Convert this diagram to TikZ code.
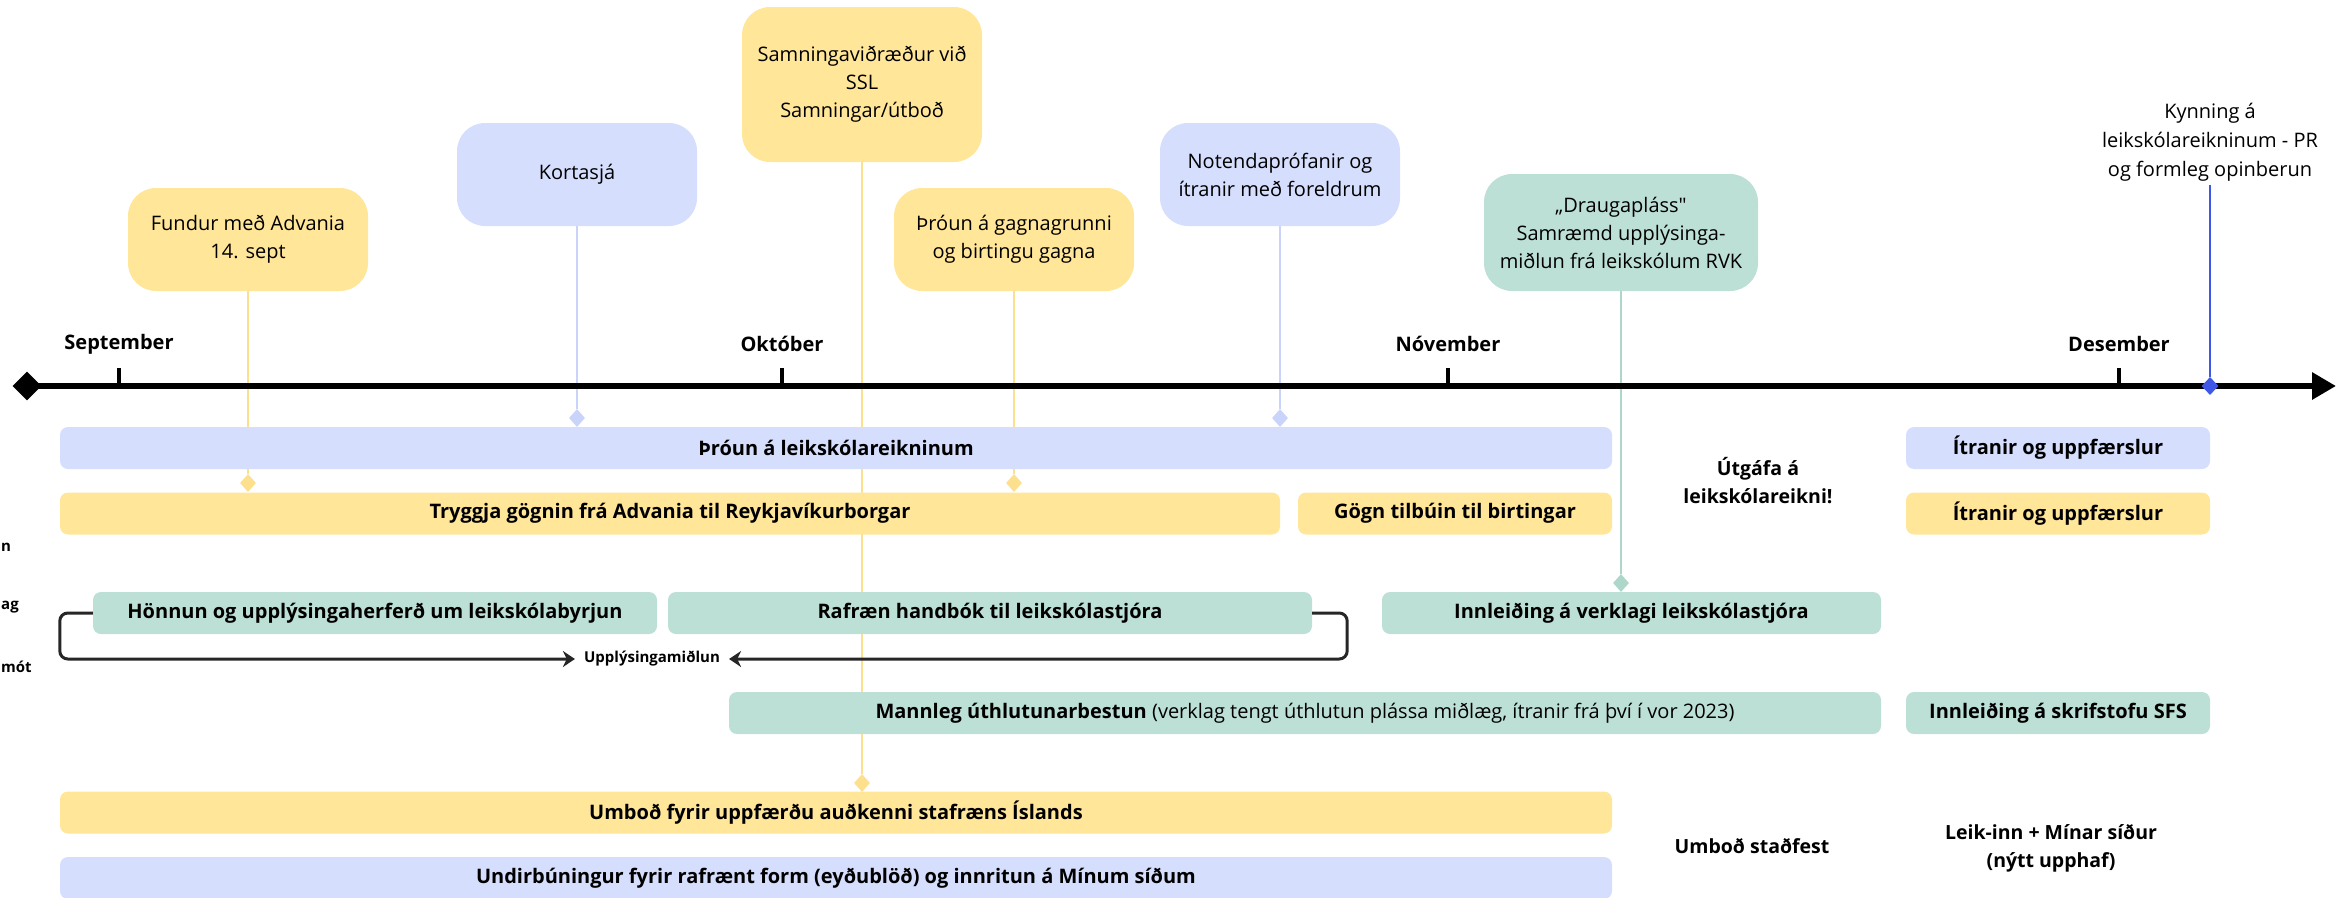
\documentclass[tikz,border=0pt]{standalone}
\usepackage{fontspec}
\setmainfont{Open Sans}
\usetikzlibrary{arrows.meta,shapes.geometric}

\definecolor{yel}{HTML}{FFE699}
\definecolor{blu}{HTML}{D6DEFD}
\definecolor{grn}{HTML}{BDE0D6}
\definecolor{yelline}{HTML}{FDE08E}
\definecolor{bluline}{HTML}{CAD4FA}
\definecolor{grnline}{HTML}{AED7CB}
\definecolor{pin}{HTML}{3F57E6}

\tikzset{
  callout/.style={fill=#1, rounded corners=28pt, inner sep=0pt, align=center,
    font=\fontsize{20pt}{28pt}\selectfont},
  bar/.style={fill=#1, rounded corners=8pt, inner sep=0pt, minimum height=42pt,
    font=\fontsize{20pt}{24pt}\selectfont\bfseries},
  dmd/.style={diamond, fill=#1, inner sep=0pt, minimum width=16pt, minimum height=18pt},
  stem/.style={draw=#1, line width=2pt},
  month/.style={font=\fontsize{20pt}{24pt}\selectfont\bfseries},
  note/.style={align=center, font=\fontsize{19.5pt}{28pt}\selectfont\bfseries},
  flow/.style={draw=black!85, line width=3pt, rounded corners=8pt,
    -{Stealth[length=12pt,width=16pt]}},
}

\begin{document}
\begin{tikzpicture}[x=1pt,y=-1pt]
\clip (0,0) rectangle (2336,897);

% milestones above the line
\node[callout=yel, minimum width=240pt, minimum height=103pt] (fund) at (248,239.5) {Fundur með Advania\\14. sept};
\node[callout=blu, minimum width=240pt, minimum height=103pt] (kort) at (577,174.5) {Kortasjá};
\node[callout=yel, minimum width=240pt, minimum height=155pt] (samn) at (862,84.5) {Samningaviðræður við\\SSL\\Samningar/útboð};
\node[callout=yel, minimum width=240pt, minimum height=103pt] (gagn) at (1014,239.5) {Þróun á gagnagrunni\\og birtingu gagna};
\node[callout=blu, minimum width=240pt, minimum height=103pt] (note) at (1280,174.5) {Notendaprófanir og\\ítranir með foreldrum};
\node[callout=grn, minimum width=274pt, minimum height=117pt] (drau) at (1621,232.5) {„Draugapláss\textquotedbl\\Samræmd upplýsinga-\\miðlun frá leikskólum RVK};
\node[align=center, font=\fontsize{20pt}{29pt}\selectfont] (kyn) at (2210,142) {Kynning á\\leikskólareikninum - PR\\og formleg opinberun};

\node[dmd=yelline] (dfund) at (248,483) {};
\node[dmd=bluline] (dkort) at (577,418) {};
\node[dmd=yelline] (dsamn) at (862,783) {};
\node[dmd=yelline] (dgagn) at (1014,483) {};
\node[dmd=bluline] (dnote) at (1280,418) {};
\node[dmd=grnline] (ddrau) at (1621,583) {};

\draw[stem=yelline] (fund) -- (dfund);
\draw[stem=bluline] (kort) -- (dkort);
\draw[stem=yelline] (samn) -- (dsamn);
\draw[stem=yelline] (gagn) -- (dgagn);
\draw[stem=bluline] (note) -- (dnote);
\draw[stem=grnline] (drau) -- (ddrau);

% timeline
\node[diamond, fill=black, inner sep=0pt, minimum width=29pt, minimum height=29pt] (tstart) at (27,386) {};
\coordinate (tend) at (2336,386);
\draw[line width=6pt, -{Triangle[length=24pt,width=26pt]}] (tstart.center) -- (tend);

\foreach \m/\x in {September/119, Október/782, Nóvember/1448, Desember/2119} {
  \draw[line width=4pt] (\x,386) -- (\x,368);
  \node[month] (m\x) at (\x,344) {\m};
}

\node[dmd=pin, minimum width=17pt, minimum height=18pt] (dkyn) at (2210,386) {};
\draw[draw=pin, line width=2pt] (kyn) -- (dkyn);

% bars
\node[bar=blu, minimum width=1552pt] (thr) at (836,448) {Þróun á leikskólareikninum};
\node[bar=blu, minimum width=304pt] (itr1) at (2058,448) {Ítranir og uppfærslur};
\node[bar=yel, minimum width=1220pt] (tryg) at (670,513.5) {Tryggja gögnin frá Advania til Reykjavíkurborgar};
\node[bar=yel, minimum width=314pt] (gogn) at (1455,513.5) {Gögn tilbúin til birtingar};
\node[bar=yel, minimum width=304pt] (itr2) at (2058,513.5) {Ítranir og uppfærslur};
\node[note] (utg) at (1758,481) {Útgáfa á\\leikskólareikni!};

\node[bar=grn, minimum width=564pt] (honn) at (375,613) {Hönnun og upplýsingaherferð um leikskólabyrjun};
\node[bar=grn, minimum width=644pt] (rafr) at (990,613) {Rafræn handbók til leikskólastjóra};
\node[bar=grn, minimum width=499pt] (innl) at (1631.5,613) {Innleiðing á verklagi leikskólastjóra};

\node[font=\fontsize{15pt}{18pt}\selectfont\bfseries, inner xsep=9pt] (upp) at (652,659) {Upplýsingamiðlun};
\draw[flow] (honn.west) -- ++(-33,0) |- (upp.west);
\draw[flow] (rafr.east) -- ++(35,0) |- (upp.east);

\node[bar=grn, minimum width=1152pt] (mann) at (1305,713) {Mannleg úthlutunarbestun \mdseries(verklag tengt úthlutun plássa miðlæg, ítranir frá því í vor 2023)};
\node[bar=grn, minimum width=304pt] (sfs) at (2058,713) {Innleiðing á skrifstofu SFS};

\node[bar=yel, minimum width=1552pt] (umb) at (836,812.5) {Umboð fyrir uppfærðu auðkenni stafræns Íslands};
\node[bar=blu, minimum width=1552pt] (undir) at (836,878) {Undirbúningur fyrir rafrænt form (eyðublöð) og innritun á Mínum síðum};
\node[note] (umst) at (1752,846) {Umboð staðfest};
\node[note] (leik) at (2051,848) {Leik-inn + Mínar síður\\(nýtt upphaf)};

% labels at the left edge
\node[anchor=west, inner sep=0pt, font=\fontsize{15pt}{18pt}\selectfont\bfseries] (lbl1) at (1,547) {n};
\node[anchor=west, inner sep=0pt, font=\fontsize{15pt}{18pt}\selectfont\bfseries] (lbl2) at (1,607) {ag};
\node[anchor=west, inner sep=0pt, font=\fontsize{15pt}{18pt}\selectfont\bfseries] (lbl3) at (1,667) {mót};
\end{tikzpicture}
\end{document}
